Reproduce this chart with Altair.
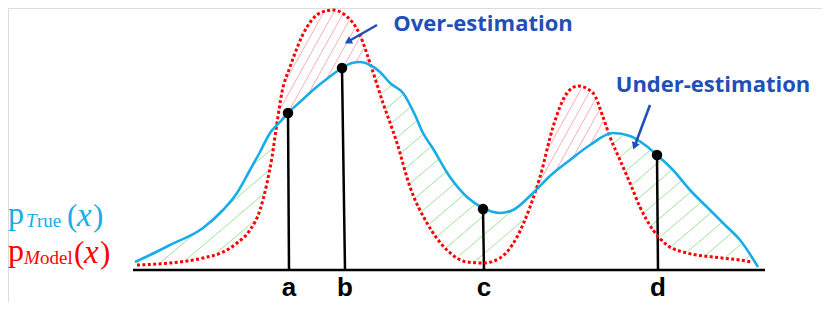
import altair as alt
import numpy as np
import pandas as pd

# ---- data (reference-pixel coordinates) ----
true_x = [135, 150, 170, 203, 223, 237, 250, 260, 270, 280, 288, 300, 313, 328, 342, 352, 360, 370, 380, 390,
          403, 415, 423, 432, 450, 467, 483, 500, 513, 533, 550, 570, 590, 613, 630, 645, 657, 673, 690, 710,
          725, 740, 758]
true_y = [262, 255, 245, 228, 210, 193, 170, 152, 133, 122, 113, 102, 90, 78, 68, 63, 62, 65, 72, 83,
          93, 115, 133, 147, 177, 197, 208, 213, 210, 193, 176, 160, 145, 133, 136, 145, 155, 170, 190, 210,
          225, 240, 267]

model_x = [137, 170, 203, 223, 237, 250, 260, 267, 272, 277, 282, 290, 307, 320, 333, 345, 360, 370, 383, 397,
           410, 427, 447, 467, 483, 500, 517, 530, 540, 553, 567, 578, 593, 603, 610, 620, 630, 640, 653,
           667, 687, 713, 740, 752]
model_y = [265, 263, 258, 252, 243, 230, 210, 183, 157, 123, 92, 67, 27, 13, 10, 15, 35, 63, 103, 143,
           187, 223, 250, 262, 263, 258, 237, 207, 177, 127, 93, 86, 93, 117, 137, 160, 183, 207, 230,
           245, 253, 257, 260, 262]

pt_labels = ["a", "b", "c", "d"]
pt_top_x = [288, 342, 483, 657]
pt_top_y = [113, 68, 209, 155]
pt_base_x = [289, 345, 484, 658]
axis_y = 270
axis_x = [133, 765]

BLUE = "#1AACE6"
RED = "#FF0000"
NAVY = "#1F4FB8"

# ---- hatching derived from the two curves ----
gx = np.arange(135, 762, 0.25)
ty = np.interp(gx, true_x, true_y)
my = np.interp(gx, model_x, model_y)


def hatch(slope, step, over):
    segs = []
    cmin = (np.minimum(ty, my) + slope * gx).min()
    cmax = (np.maximum(ty, my) + slope * gx).max()
    for c in np.arange(cmin, cmax, step):
        yy = c - slope * gx
        if over:
            mask = (yy > my + 1) & (yy < ty - 1)
        else:
            mask = (yy > ty + 1.5) & (yy < my - 1.5)
        idx = np.flatnonzero(mask)
        if idx.size == 0:
            continue
        runs = np.split(idx, np.flatnonzero(np.diff(idx) > 1) + 1)
        for r in runs:
            if r.size < 8:
                continue
            segs.append({"x": gx[r[0]], "y": yy[r[0]], "x2": gx[r[-1]], "y2": yy[r[-1]]})
    return pd.DataFrame(segs)


green_df = hatch(0.85, 19, over=False)
red_df = hatch(1.8, 18, over=True)

true_df = pd.DataFrame({"x": true_x, "y": true_y})
model_df = pd.DataFrame({"x": model_x, "y": model_y})
pts_df = pd.DataFrame({"x": pt_top_x, "y": pt_top_y, "x2": pt_base_x, "y2": [axis_y] * 4, "lab": pt_labels})
axis_df = pd.DataFrame({"x": [axis_x[0]], "x2": [axis_x[1]], "y": [axis_y], "y2": [axis_y]})

X = alt.Scale(domain=[8, 822], nice=False, zero=False)
Y = alt.Scale(domain=[8, 302], reverse=True, nice=False, zero=False)


def xe(f="x"):
    return alt.X(f"{f}:Q", scale=X, axis=None)


def ye(f="y"):
    return alt.Y(f"{f}:Q", scale=Y, axis=None)


green = alt.Chart(green_df).mark_rule(color="#9FE39A", strokeWidth=1).encode(
    x=xe(), y=ye(), x2="x2", y2="y2")
redh = alt.Chart(red_df).mark_rule(color="#F7AFBA", strokeWidth=1).encode(
    x=xe(), y=ye(), x2="x2", y2="y2")
stems = alt.Chart(pts_df).mark_rule(color="black", strokeWidth=2.5).encode(
    x=xe(), y=ye(), x2="x2", y2="y2")
axis_line = alt.Chart(axis_df).mark_rule(color="black", strokeWidth=2.5).encode(
    x=xe(), y=ye(), x2="x2", y2="y2")
model_line = alt.Chart(model_df).mark_line(
    color=RED, strokeWidth=3, strokeDash=[3, 2.4], interpolate="monotone").encode(x=xe(), y=ye())
true_line = alt.Chart(true_df).mark_line(
    color=BLUE, strokeWidth=2.6, interpolate="monotone").encode(x=xe(), y=ye())
dots = alt.Chart(pts_df).mark_circle(color="black", size=110, opacity=1).encode(x=xe(), y=ye())
letters = alt.Chart(pts_df.assign(ly=301)).mark_text(
    font="Liberation Sans", fontWeight="bold", fontSize=26, baseline="bottom", color="black").encode(
    x=xe("x2"), y=ye("ly"), text="lab:N")

# annotations
ann_df = pd.DataFrame({"x": [483, 713], "y": [24, 85], "t": ["Over-estimation", "Under-estimation"]})
ann = alt.Chart(ann_df).mark_text(
    font="Open Sans", fontWeight="bold", fontSize=22, baseline="middle", color=NAVY).encode(
    x=xe(), y=ye(), text="t:N")
arr_df = pd.DataFrame({"x": [377, 650], "y": [25, 105], "x2": [349, 635], "y2": [41, 145],
                       "ang": [240, 201]})
arr_lines = alt.Chart(arr_df).mark_rule(color=NAVY, strokeWidth=2.5).encode(
    x=xe(), y=ye(), x2="x2", y2="y2")
arr_heads = alt.Chart(arr_df).mark_point(shape="triangle", filled=True, color=NAVY, size=70, opacity=1).encode(
    x=xe("x2"), y=ye("y2"), angle=alt.Angle("ang:Q", scale=None))

# legend-like labels
up_df = pd.DataFrame({
    "x": [8, 37, 67, 93, 8, 40, 74, 100],
    "y": [224, 227, 226, 226, 261, 264, 263, 263],
    "t": ["p", "rue", "(", ")", "p", "odel", "(", ")"],
    "s": [32, 19, 31, 31, 32, 19, 31, 31],
    "c": [BLUE, BLUE, BLUE, BLUE, RED, RED, RED, RED],
})
it_df = pd.DataFrame({
    "x": [26, 77, 24, 84],
    "y": [227, 226, 264, 263],
    "t": ["T", "x", "M", "x"],
    "s": [19, 33, 19, 33],
    "c": [BLUE, BLUE, RED, RED],
})
up = alt.Chart(up_df).mark_text(font="Liberation Serif", align="left", baseline="alphabetic").encode(
    x=xe(), y=ye(), text="t:N", color=alt.Color("c:N", scale=None), size=alt.Size("s:Q", scale=None))
it = alt.Chart(it_df).mark_text(font="Liberation Serif", fontStyle="italic", align="left",
                                baseline="alphabetic").encode(
    x=xe(), y=ye(), text="t:N", color=alt.Color("c:N", scale=None), size=alt.Size("s:Q", scale=None))

chart = alt.layer(
    green, redh, stems, model_line, true_line, dots, axis_line, letters, ann, arr_lines, arr_heads, up, it
).properties(width=814, height=294, padding=0, autosize=alt.AutoSizeParams(type="none")).configure_view(
    stroke=None).configure(background="white")

chart.save("out.html", embed_options={"renderer": "svg", "actions": False})
